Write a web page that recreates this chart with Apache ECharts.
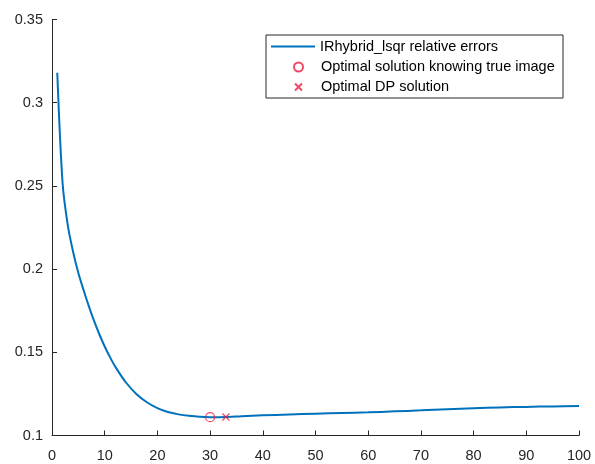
<!DOCTYPE html>
<html>
<head>
<meta charset="utf-8">
<script src="https://cdn.jsdelivr.net/npm/echarts@6/dist/echarts.min.js"></script>
<style>
  html, body { margin: 0; padding: 0; background: #fff; }
  #myChart { width: 595px; height: 464px; }
</style>
</head>
<body>
<div id="myChart"></div>
<script>
// iterations and relative errors
const iters = [1, 2, 3, 4, 5, 6, 7, 8, 9, 10, 11, 12, 14, 16, 18, 20, 22, 24, 26, 28, 30,
  33, 36, 40, 45, 50, 55, 60, 65, 70, 75, 80, 85, 90, 95, 100];
const relErrors = [0.318, 0.252, 0.2263, 0.2104, 0.1976, 0.1873, 0.1776, 0.1687, 0.1607, 0.1535,
  0.1471, 0.1414, 0.1320, 0.1250, 0.1200, 0.1165, 0.1141, 0.1127, 0.1118, 0.1112, 0.1110,
  0.1111, 0.1116, 0.1121, 0.1126, 0.1131, 0.1135, 0.1139, 0.1145, 0.1151, 0.1158,
  0.1164, 0.1169, 0.1172, 0.1175, 0.1177];
const optTrue = [30, 0.1110];
const optDP = [33, 0.1111];
const xTicks = [0, 100, 10];
const yTicks = [0.1, 0.35, 0.05];

const names = ['IRhybrid_lsqr relative errors', 'Optimal solution knowing true image', 'Optimal DP solution'];
const axisColor = '#262626';
const font = "'Liberation Sans', Arial, Helvetica, sans-serif";
const red = '#ee1c3c';
const blue = '#0072BD';

const myChart = echarts.init(document.getElementById('myChart'));

const lineData = iters.map((x, i) => [x, relErrors[i]]);

const legendBase = {
  orient: 'vertical',
  padding: 0,
  symbolKeepAspect: true,
  textStyle: { color: '#000', fontSize: 14.5, fontFamily: font }
};

myChart.setOption({
  animation: false,
  grid: { left: 52, right: 16, top: 19.5, bottom: 28.5, containLabel: false },
  graphic: [{
    type: 'rect',
    z: 3,
    shape: { x: 266, y: 35, width: 297, height: 63 },
    style: { fill: '#fff', stroke: axisColor, lineWidth: 1 }
  }],
  legend: [
    Object.assign({}, legendBase, {
      data: [{ name: names[0], icon: 'path://M0,0H44V2H0Z' }],
      left: 271, top: 39, itemWidth: 44, itemHeight: 14, z: 5
    }),
    Object.assign({}, legendBase, {
      data: [names[1]], left: 293, top: 59.5, itemWidth: 9, itemHeight: 9, z: 5,
      textStyle: { color: '#000', fontSize: 14.5, fontFamily: font, padding: [0, 0, 0, 13] }
    }),
    Object.assign({}, legendBase, {
      data: [names[2]], left: 294, top: 79.5, itemWidth: 7, itemHeight: 7, z: 5,
      textStyle: { color: '#000', fontSize: 14.5, fontFamily: font, padding: [0, 0, 0, 14] }
    })
  ],
  xAxis: {
    type: 'value',
    min: xTicks[0],
    max: xTicks[1],
    interval: xTicks[2],
    axisLine: { lineStyle: { color: axisColor, width: 1 } },
    axisTick: { inside: true, length: 5, lineStyle: { color: axisColor } },
    axisLabel: { color: axisColor, fontSize: 14.5, fontFamily: font, margin: 13 },
    splitLine: { show: false }
  },
  yAxis: {
    type: 'value',
    min: yTicks[0],
    max: yTicks[1],
    interval: yTicks[2],
    axisLine: { show: true, lineStyle: { color: axisColor, width: 1 } },
    axisTick: { show: true, inside: true, length: 5, lineStyle: { color: axisColor } },
    axisLabel: {
      color: axisColor, fontSize: 14.5, fontFamily: font, margin: 9,
      formatter: v => String(Math.round(v * 100) / 100)
    },
    splitLine: { show: false }
  },
  series: [
    {
      name: names[0],
      type: 'line',
      data: lineData,
      symbol: 'none',
      smooth: 0.3,
      lineStyle: { color: blue, width: 2 },
      itemStyle: { color: blue },
      z: 2
    },
    {
      name: names[1],
      type: 'scatter',
      data: [optTrue],
      symbol: 'circle',
      symbolSize: 9,
      itemStyle: { color: 'rgba(0,0,0,0)', borderColor: red, borderWidth: 1.2 },
      z: 3
    },
    {
      name: names[2],
      type: 'scatter',
      data: [optDP],
      symbol: 'path://M0,0L10,10M10,0L0,10',
      symbolSize: 7,
      itemStyle: { color: red, borderColor: red, borderWidth: 1.2 },
      z: 3
    }
  ]
});

window.addEventListener('resize', function () {
  myChart.resize();
});
</script>
</body>
</html>
